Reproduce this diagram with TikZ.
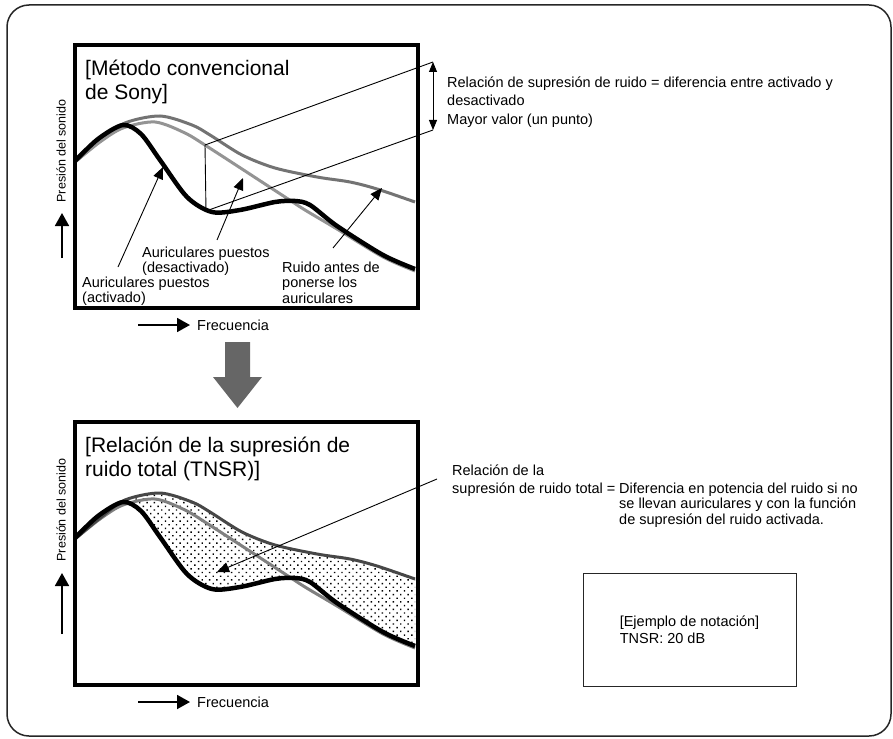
\documentclass[tikz,border=0pt]{standalone}
\usepackage{fontspec}
\setmainfont{Liberation Sans}
\usetikzlibrary{arrows.meta,patterns.meta}
\def\actcurve{plot[smooth] coordinates {(75,161) (98,139) (123,125) (141,134) (160,160) (187,197) (212,212) (240,210) (275,202) (295,201) (310,205) (337,226) (383,255) (415,269)}}
\def\desactcurve{plot[smooth] coordinates {(75,162) (100,142) (123,128) (155,122) (185,133) (208,147) (242,169) (265,184) (285,197) (305,210) (337,229) (383,257) (415,271)}}
\def\noisecurve{plot[smooth] coordinates {(75,162) (100,141) (125,123) (160,116) (192,125) (210,135) (242,155) (275,168) (317,177) (350,182) (377,189) (415,202)}}

\tikzset{
  lbl/.style={font=\fontsize{14.5}{15.5}\selectfont, align=left, inner sep=0pt, anchor=north west},
  note/.style={font=\fontsize{14.5}{18.5}\selectfont, align=left, inner sep=0pt, anchor=north west},
  ttl/.style={font=\fontsize{21}{23.5}\selectfont, align=left, inner sep=0pt, anchor=north west},
  axtxt/.style={font=\fontsize{12.5}{14}\selectfont, inner sep=0pt},
  panel/.style={line width=4pt},
  ptr/.style={line width=0.9pt, -{Triangle[length=12pt,width=10pt]}},
  axarrow/.style={line width=1.8pt, -{Triangle[length=13pt,width=14pt]}},
  act/.style={line width=4.5pt, black},
  desact/.style={line width=3pt, black!42},
  noise/.style={line width=3pt, black!55},
}

\begin{document}
\begin{tikzpicture}[x=1pt, y=-1pt]
		%%%%% START %%%%%
		\useasboundingbox (0,0) rectangle (893,738);
		\draw[line width=1.5pt, black!85, rounded corners=22pt] (7,5) rectangle (891,736);
		
		% top panel: conventional method
		\draw[noise] \noisecurve;
		\draw[desact] \desactcurve;
		\draw[act] \actcurve;
		\draw[panel] (75,45) rectangle (418,308);
		\node[ttl] (ttlA) at (85,60) {[Método convencional\\de Sony]};
		
		\coordinate (gapTop) at (205,145);
		\coordinate (gapBot) at (206,211);
		\coordinate (gapTopR) at (433,62);
		\coordinate (gapBotR) at (433,130);
		\draw[line width=0.9pt] (gapTop) -- (gapBot);
		\draw[line width=0.9pt] (gapTop) -- (gapTopR);
		\draw[line width=0.9pt] (gapBot) -- (gapBotR);
		\draw[line width=0.9pt, {Triangle[length=10pt,width=8pt]}-{Triangle[length=10pt,width=8pt]}] (gapTopR) -- (gapBotR);
		\node[note] (ratio) at (447,76.3) {Relación de supresión de ruido = diferencia entre activado y\\desactivado\\Mayor valor (un punto)};
		
		\node[lbl] (lblDes) at (142,246.3) {Auriculares puestos\\(desactivado)};
		\node[lbl] (lblAct) at (82,276.3) {Auriculares puestos\\(activado)};
		\node[lbl] (lblNoise) at (282,261.3) {Ruido antes de\\ponerse los\\auriculares};
		\coordinate (desFrom) at (217,240);
		\coordinate (desTo) at (243,178);
		\coordinate (actFrom) at (118,267);
		\coordinate (actTo) at (163,167);
		\coordinate (noiseFrom) at (333,248);
		\coordinate (noiseTo) at (382,188);
		\draw[ptr] (desFrom) -- (desTo);
		\draw[ptr] (actFrom) -- (actTo);
		\draw[ptr] (noiseFrom) -- (noiseTo);
		
		\coordinate (fqA0) at (138,325);
		\coordinate (fqA1) at (190,325);
		\draw[axarrow] (fqA0) -- (fqA1);
		\node[lbl, anchor=west] (fqA) at (197,325) {Frecuencia};
		\coordinate (spA0) at (62,258);
		\coordinate (spA1) at (62,213);
		\draw[axarrow] (spA0) -- (spA1);
		\node[axtxt, rotate=90] (spA) at (61,151) {Presión del sonido};
		
		% block arrow between the panels
		\fill[black!60] (225,342) -- (250,342) -- (250,377) -- (262,377) -- (237.5,408) -- (213,377) -- (225,377) -- cycle;
		
		% bottom panel: TNSR
		\begin{scope}[shift={(0,377)}]
			\begin{scope}
				\clip \noisecurve -- (415,308) -- (75,308) -- cycle;
				\fill[pattern={Dots[distance=5.2pt,angle=45,radius=1pt]}] \actcurve -- (415,45) -- (75,45) -- cycle;
			\end{scope}
			\draw[desact, black!50] \desactcurve;
			\draw[noise, black!72] \noisecurve;
			\draw[act] \actcurve;
			\draw[panel] (75,45) rectangle (418,308);
		\end{scope}
		\node[ttl] (ttlB) at (85,437) {[Relación de la supresión de\\ruido total (TNSR)]};
		
		\node[note, font=\fontsize{14.5}{18}\selectfont] (tnsrL) at (452,464.3) {Relación de la\\supresión de ruido total =};
		\node[lbl] (tnsrR) at (619,482.4) {Diferencia en potencia del ruido si no\\se llevan auriculares y con la función\\de supresión del ruido activada.};
		\coordinate (tnsrFrom) at (437,479);
		\coordinate (tnsrTo) at (217,572);
		\draw[ptr] (tnsrFrom) -- (tnsrTo);
		
		\coordinate (fqB0) at (138,702);
		\coordinate (fqB1) at (190,702);
		\draw[axarrow] (fqB0) -- (fqB1);
		\node[lbl, anchor=west] (fqB) at (197,702) {Frecuencia};
		\coordinate (spB0) at (62,634);
		\coordinate (spB1) at (62,573);
		\draw[axarrow] (spB0) -- (spB1);
		\node[axtxt, rotate=90] (spB) at (61,510) {Presión del sonido};
		
		\node[draw, line width=1pt, black!85, text=black, minimum width=213pt, minimum height=113pt, font=\fontsize{14.5}{17.5}\selectfont, align=left] (sample) at (689.5,629.5) {[Ejemplo de notación]\\TNSR: 20 dB};
		
		%%%%% END %%%%%
	\end{tikzpicture}
\end{document}
